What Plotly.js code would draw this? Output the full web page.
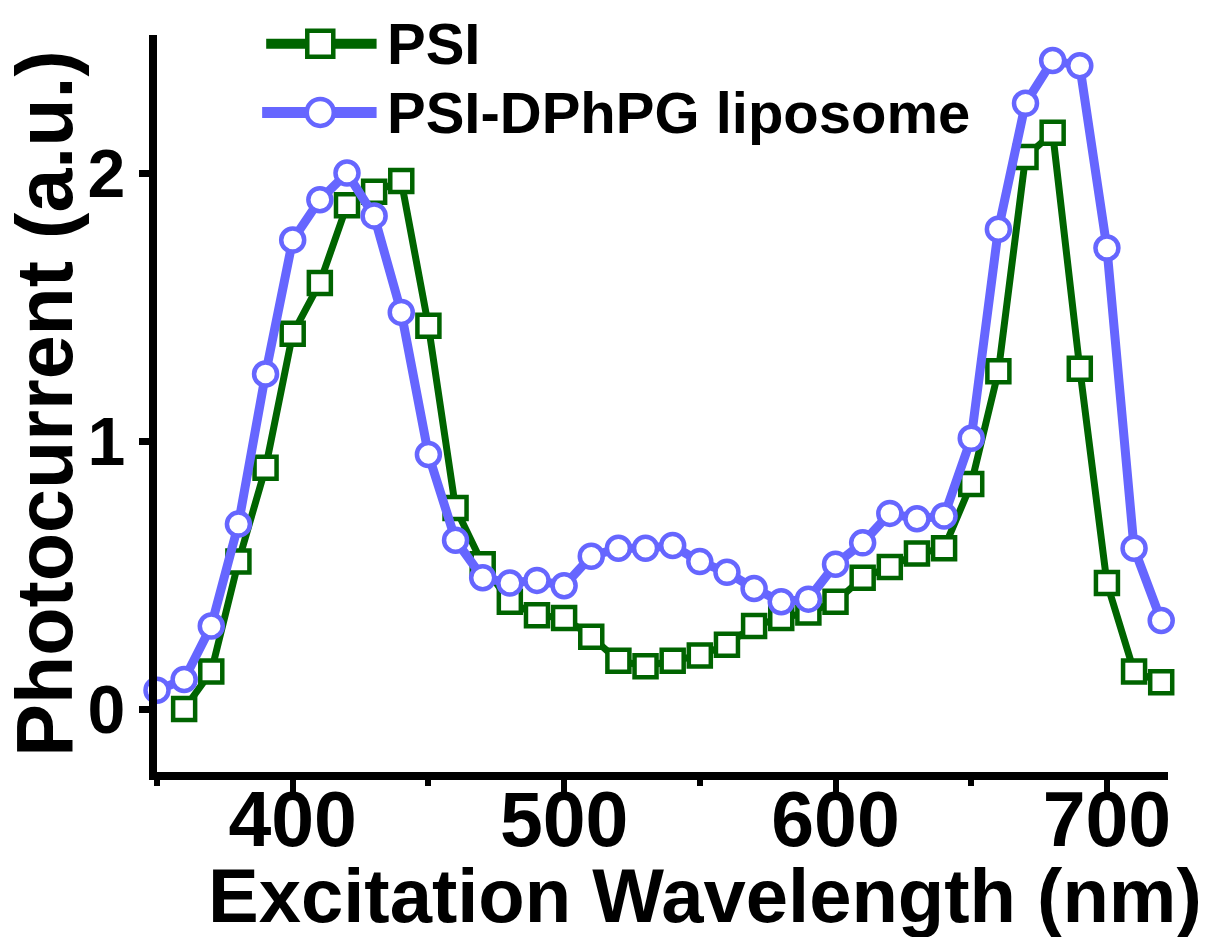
<!DOCTYPE html>
<html>
<head>
<meta charset="utf-8">
<script src="https://cdn.plot.ly/plotly-3.0.1.min.js"></script>
<style>
  html, body { margin: 0; padding: 0; background: #ffffff; }
  #chart { width: 1212px; height: 937px; }
</style>
</head>
<body>
<div id="chart"></div>
<script>
// ---- Data ----
const wavelengthPSI = [360, 370, 380, 390, 400, 410, 420, 430, 440, 450, 460, 470, 480, 490, 500,
  510, 520, 530, 540, 550, 560, 570, 580, 590, 600, 610, 620, 630, 640, 650, 660, 670, 680, 690, 700, 710, 720];
const photocurrentPSI = [0.00, 0.14, 0.55, 0.90, 1.40, 1.59, 1.88, 1.93, 1.97, 1.43, 0.75, 0.54, 0.40, 0.35, 0.34,
  0.27, 0.18, 0.16, 0.18, 0.20, 0.24, 0.31, 0.34, 0.36, 0.40, 0.49, 0.53, 0.58, 0.60, 0.84, 1.26, 2.06, 2.15, 1.27, 0.47, 0.14, 0.10];

const wavelengthLipo = [350, 360, 370, 380, 390, 400, 410, 420, 430, 440, 450, 460, 470, 480, 490, 500,
  510, 520, 530, 540, 550, 560, 570, 580, 590, 600, 610, 620, 630, 640, 650, 660, 670, 680, 690, 700, 710, 720];
const photocurrentLipo = [0.07, 0.11, 0.31, 0.69, 1.25, 1.75, 1.90, 2.00, 1.84, 1.48, 0.95, 0.63, 0.49, 0.47, 0.48, 0.46,
  0.57, 0.60, 0.60, 0.61, 0.55, 0.51, 0.45, 0.40, 0.41, 0.54, 0.62, 0.73, 0.71, 0.72, 1.01, 1.79, 2.26, 2.42, 2.40, 1.72, 0.60, 0.33];

const seriesNames = ['PSI', 'PSI-DPhPG liposome'];
const xTickValues = [400, 500, 600, 700];
const yTickValues = [0, 1, 2];
const xTitle = 'Excitation Wavelength (nm)';
const yTitle = 'Photocurrent (a.u.)';

// ---- Styles ----
const GREEN = '#006400';
const BLUE = '#6666ff';
const FONT = 'Liberation Sans, Arial, Helvetica, sans-serif';

const tracePSI = {
  type: 'scatter', mode: 'lines+markers',
  name: seriesNames[0],
  x: wavelengthPSI, y: photocurrentPSI,
  line: { color: GREEN, width: 7 },
  marker: { symbol: 'square', size: 22, color: '#ffffff', line: { color: GREEN, width: 4.5 } },
  cliponaxis: false, showlegend: false
};
const traceLipo = {
  type: 'scatter', mode: 'lines+markers',
  name: seriesNames[1],
  x: wavelengthLipo, y: photocurrentLipo,
  line: { color: BLUE, width: 9 },
  marker: { symbol: 'circle', size: 23, color: '#ffffff', line: { color: BLUE, width: 4.5 } },
  cliponaxis: false, showlegend: false
};

// Custom legend (decoration in paper coordinates)
const legX0 = 0.108, legX1 = 0.2172, legXm = 0.1615, legTextX = 0.2255;
const legY1 = 0.988, legY2 = 0.895;
const shapes = [
  { type: 'line', xref: 'paper', yref: 'paper', x0: legX0, x1: legX1, y0: legY1, y1: legY1,
    line: { color: GREEN, width: 10 } },
  { type: 'rect', xref: 'paper', yref: 'paper', xsizemode: 'pixel', ysizemode: 'pixel',
    xanchor: legXm, yanchor: legY1, x0: -13, x1: 13, y0: -13, y1: 13,
    fillcolor: '#ffffff', line: { color: GREEN, width: 4.5 } },
  { type: 'line', xref: 'paper', yref: 'paper', x0: legX0 - 0.004, x1: legX1, y0: legY2, y1: legY2,
    line: { color: BLUE, width: 11 } },
  { type: 'circle', xref: 'paper', yref: 'paper', xsizemode: 'pixel', ysizemode: 'pixel',
    xanchor: legXm, yanchor: legY2, x0: -13.5, x1: 13.5, y0: -13.5, y1: 13.5,
    fillcolor: '#ffffff', line: { color: BLUE, width: 4.5 } }
];
const annotations = [
  { xref: 'paper', yref: 'paper', x: legTextX, y: legY1, xanchor: 'left', yanchor: 'middle',
    text: seriesNames[0], showarrow: false, font: { family: FONT, size: 58, weight: 'bold', color: '#000' } },
  { xref: 'paper', yref: 'paper', x: legTextX, y: legY2, xanchor: 'left', yanchor: 'middle',
    text: seriesNames[1], showarrow: false, font: { family: FONT, size: 58, weight: 'bold', color: '#000' } },
  // x-axis title, placed as in the reference (slightly right of the plot centre)
  { xref: 'paper', yref: 'paper', x: 0.542, y: -0.167, xanchor: 'center', yanchor: 'middle',
    text: xTitle, showarrow: false, font: { family: FONT, size: 76, weight: 'bold', color: '#000' } }
];

const layout = {
  width: 1212, height: 937,
  margin: { l: 157, r: 44, t: 35, b: 165 },
  paper_bgcolor: '#ffffff', plot_bgcolor: '#ffffff',
  showlegend: false,
  font: { family: FONT, color: '#000000' },
  xaxis: {
    range: [350, 722.5],
    tickmode: 'array', tickvals: xTickValues, ticktext: xTickValues.map(String),
    ticks: 'outside', ticklen: 12, tickwidth: 6, tickcolor: '#000',
    minor: { dtick: 50, tick0: 350, ticks: 'outside', ticklen: 6, tickwidth: 6, tickcolor: '#000', showgrid: false },
    showline: true, linecolor: '#000', linewidth: 8,
    showgrid: false, zeroline: false,
    ticklabelstandoff: -38,
    tickfont: { family: FONT, size: 77, weight: 'bold' }
  },
  yaxis: {
    range: [-0.235, 2.515],
    tickmode: 'array', tickvals: yTickValues, ticktext: yTickValues.map(String),
    ticks: 'outside', ticklen: 10, tickwidth: 7, tickcolor: '#000',
    showline: true, linecolor: '#000', linewidth: 8,
    showgrid: false, zeroline: false,
    tickfont: { family: FONT, size: 68, weight: 'bold' },
    title: { text: yTitle, font: { family: FONT, size: 79, weight: 'bold' }, standoff: 12 }
  },
  shapes: shapes,
  annotations: annotations
};

Plotly.newPlot('chart', [tracePSI, traceLipo], layout, { displayModeBar: false, staticPlot: true });
</script>
</body>
</html>
